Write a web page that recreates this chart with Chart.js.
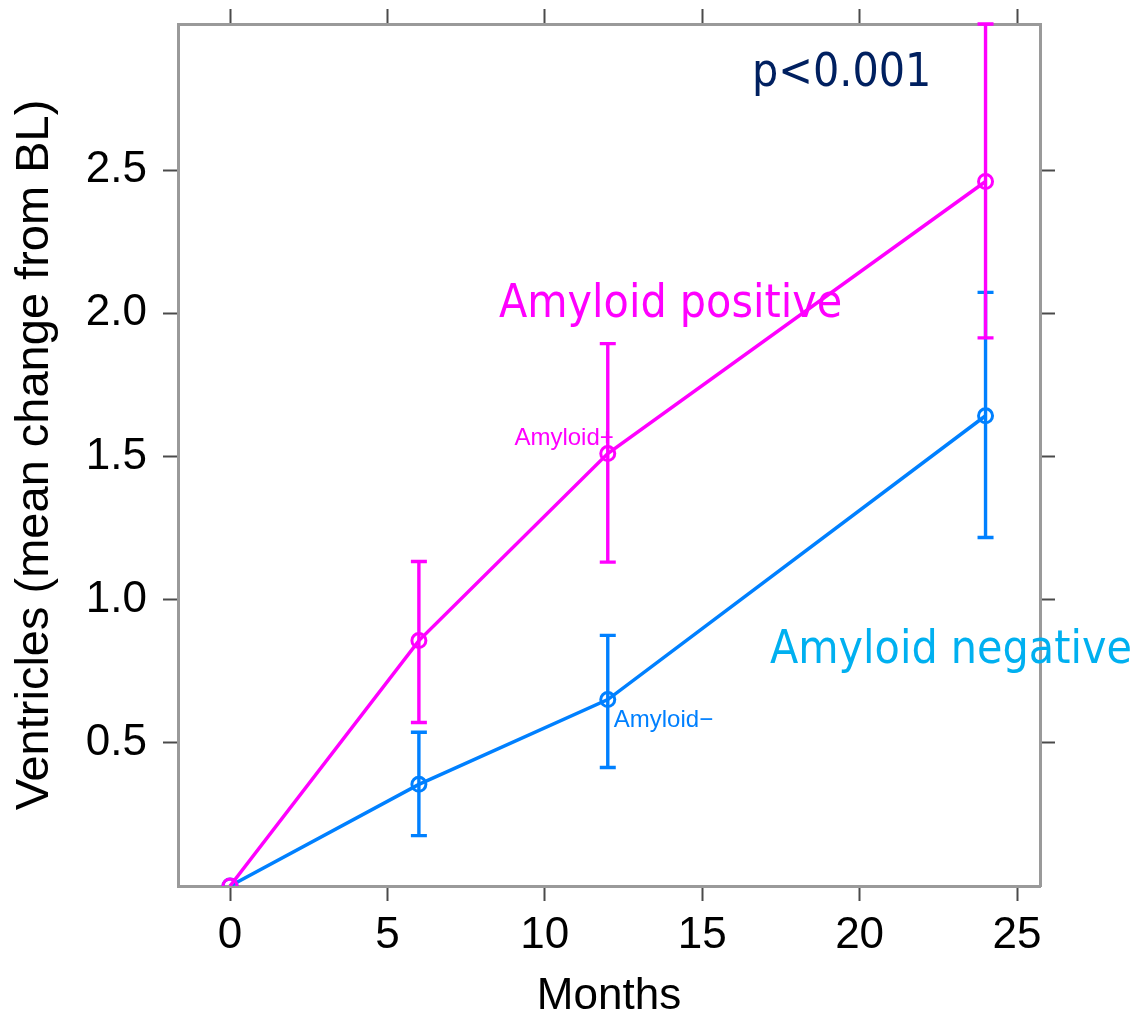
<!DOCTYPE html>
<html><head><meta charset="utf-8">
<script src="https://cdn.jsdelivr.net/npm/chart.js@4"></script>
<style>html,body{margin:0;padding:0;background:#fff;}canvas{display:block}</style>
</head><body>
<canvas id="c" width="1138" height="1018"></canvas>
<script>
// ---- data ----
const months = [0, 6, 12, 24];
const posName = 'Amyloid+';
const posMean = [0, 0.857, 1.51, 2.46];
const posLow  = [null, 0.571, 1.131, 1.914];
const posHigh = [null, 1.133, 1.894, 3.01];
const negName = 'Amyloid\u2212';
const negMean = [0, 0.355, 0.651, 1.642];
const negLow  = [null, 0.176, 0.414, 1.217];
const negHigh = [null, 0.537, 0.875, 2.073];
const xTicks = [0, 5, 10, 15, 20, 25];
const yTicks = [0.5, 1.0, 1.5, 2.0, 2.5];
const xTitle = 'Months';
const yTitle = 'Ventricles (mean change from BL)';
const pText = 'p<0.001';
const posText = 'Amyloid positive';
const negText = 'Amyloid negative';

const POS = '#ff00ff', NEG = '#0080ff';
const AX = 'Liberation Sans, Arial, Helvetica, sans-serif';
const BIG = "'DejaVu Sans Condensed', 'DejaVu Sans', sans-serif";

const errorSets = [
  {mean: negMean, low: negLow, high: negHigh, color: NEG},
  {mean: posMean, low: posLow, high: posHigh, color: POS}
];

const errorBars = {
  id: 'errorBars',
  afterDatasetsDraw(chart) {
    const {ctx, scales: {x, y}} = chart;
    ctx.save();
    ctx.lineWidth = 3.4;
    ctx.lineCap = 'butt';
    for (const s of errorSets) {
      ctx.strokeStyle = s.color;
      months.forEach((m, i) => {
        if (s.low[i] == null) return;
        const px = x.getPixelForValue(m);
        const yl = y.getPixelForValue(s.low[i]);
        const yh = y.getPixelForValue(s.high[i]);
        ctx.beginPath();
        ctx.moveTo(px, yl); ctx.lineTo(px, yh);
        ctx.moveTo(px - 8, yl); ctx.lineTo(px + 8, yl);
        ctx.moveTo(px - 8, yh); ctx.lineTo(px + 8, yh);
        ctx.stroke();
      });
    }
    ctx.restore();
  }
};

const labels = {
  id: 'labels',
  afterDraw(chart) {
    const {ctx, scales: {x, y}} = chart;
    ctx.save();
    ctx.font = '24px ' + AX;
    ctx.textBaseline = 'alphabetic';
    ctx.fillStyle = POS;
    ctx.textAlign = 'right';
    ctx.fillText(posName, x.getPixelForValue(months[2]) + 6, y.getPixelForValue(posMean[2]) - 9);
    ctx.fillStyle = NEG;
    ctx.textAlign = 'left';
    ctx.fillText(negName, x.getPixelForValue(months[2]) + 6, y.getPixelForValue(negMean[2]) + 27);
    ctx.font = '46px ' + BIG;
    ctx.textAlign = 'left';
    ctx.fillStyle = '#002060';
    ctx.fillText(pText, 752, 86);
    ctx.fillStyle = POS;
    ctx.fillText(posText, 499, 317);
    ctx.fillStyle = '#00b0f0';
    ctx.fillText(negText, 770, 663);
    ctx.restore();
  }
};

const gridOpts = {drawOnChartArea: false, tickLength: 15, tickColor: '#4a4a4a', tickWidth: 2};
const borderOpts = {color: '#9a9a9a', width: 3};
const xMin = -1.652, xMax = 25.73, yMin = 0, yMax = 3.01;
const noPad = s => { s.paddingTop = 0; s.paddingBottom = 0; s.paddingLeft = 0; s.paddingRight = 0; };

new Chart(document.getElementById('c'), {
  type: 'line',
  data: {
    datasets: [
      {label: posName, data: months.map((m, i) => ({x: m, y: posMean[i]})), borderColor: POS, borderWidth: 3.5,
       pointRadius: 7, pointBorderWidth: 3, pointBackgroundColor: 'rgba(0,0,0,0)', pointBorderColor: POS, tension: 0},
      {label: negName, data: months.map((m, i) => ({x: m, y: negMean[i]})), borderColor: NEG, borderWidth: 3.5,
       pointRadius: 7, pointBorderWidth: 3, pointBackgroundColor: 'rgba(0,0,0,0)', pointBorderColor: NEG, tension: 0}
    ]
  },
  options: {
    responsive: false, animation: false, devicePixelRatio: 1,
    layout: {padding: 0},
    plugins: {legend: {display: false}, tooltip: {enabled: false}},
    scales: {
      x: {
        type: 'linear', position: 'bottom', min: xMin, max: xMax,
        afterBuildTicks: s => { s.ticks = xTicks.map(v => ({value: v})); },
        afterFit: s => { s.height = 132; noPad(s); },
        ticks: {font: {family: AX, size: 44}, color: '#000', padding: 8, maxRotation: 0, autoSkip: false,
                callback: v => String(v)},
        grid: gridOpts, border: borderOpts,
        title: {display: true, text: xTitle, color: '#000', font: {family: AX, size: 44, lineHeight: 0.9},
                padding: {top: 0, bottom: 1}}
      },
      x2: {
        type: 'linear', position: 'top', min: xMin, max: xMax,
        afterBuildTicks: s => { s.ticks = xTicks.map(v => ({value: v})); },
        afterFit: s => { s.height = 24; noPad(s); },
        ticks: {display: false}, grid: gridOpts, border: borderOpts
      },
      y: {
        type: 'linear', position: 'left', min: yMin, max: yMax,
        afterBuildTicks: s => { s.ticks = yTicks.map(v => ({value: v})); },
        afterFit: s => { s.width = 178; noPad(s); },
        ticks: {font: {family: AX, size: 44}, color: '#000', padding: 16, autoSkip: false,
                callback: v => Number(v).toFixed(1)},
        grid: gridOpts, border: borderOpts,
        title: {display: true, text: yTitle, color: '#000', font: {family: AX, size: 47},
                padding: {top: 7, bottom: 0}}
      },
      y2: {
        type: 'linear', position: 'right', min: yMin, max: yMax,
        afterBuildTicks: s => { s.ticks = yTicks.map(v => ({value: v})); },
        afterFit: s => { s.width = 98; noPad(s); },
        ticks: {display: false}, grid: gridOpts, border: borderOpts
      }
    }
  },
  plugins: [errorBars, labels]
});
</script>
</body></html>
